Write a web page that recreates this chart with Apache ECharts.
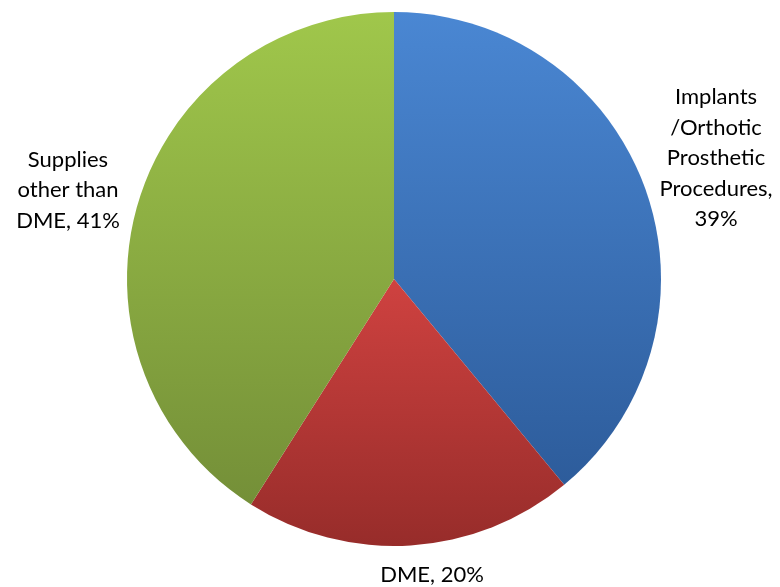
<!DOCTYPE html>
<html style="height: 100%">
<head>
    <meta charset="utf-8">
</head>
<body style="height: 100%; margin: 0; background: #fff">
    <div id="container" style="width: 780px; height: 587px"></div>
    <script src="https://cdn.jsdelivr.net/npm/echarts@6/dist/echarts.min.js"></script>
    <script type="text/javascript">
        // 数据
        var categories = ['Implants\n/Orthotic\nProsthetic\nProcedures,\n', 'DME, ', 'Supplies\nother than\nDME, '];
        var values = [39, 20, 41];
        // 渐变色（上 -> 下）
        var topColors = ['#4a87d3', '#cf4240', '#a0c74b'];
        var bottomColors = ['#2d5c9b', '#972c2a', '#748f38'];
        // 标签位置
        var labelPos = [[716, 158], [432, 575], [68, 190]];

        var dom = document.getElementById('container');
        var myChart = echarts.init(dom);

        var data = categories.map(function (name, i) {
            return {
                name: name,
                value: values[i],
                itemStyle: {
                    color: new echarts.graphic.LinearGradient(0, 0, 0, 1, [
                        { offset: 0, color: topColors[i] },
                        { offset: 1, color: bottomColors[i] }
                    ])
                }
            };
        });

        var option = {
            animation: false,
            series: [{
                type: 'pie',
                center: [394, 279],
                radius: 267,
                startAngle: 90,
                clockwise: true,
                data: data,
                label: {
                    show: true,
                    position: 'outside',
                    formatter: function (p) {
                        return p.name + p.value + '%';
                    },
                    fontFamily: 'Lato',
                    fontSize: 22,
                    lineHeight: 30.5,
                    color: '#000',
                    align: 'center',
                    overflow: 'none',
                    width: 200
                },
                labelLine: { show: false },
                labelLayout: function (params) {
                    var pos = labelPos[params.dataIndex];
                    return {
                        x: pos[0],
                        y: pos[1],
                        align: 'center',
                        verticalAlign: 'middle'
                    };
                }
            }]
        };

        myChart.setOption(option);
    </script>
</body>
</html>
